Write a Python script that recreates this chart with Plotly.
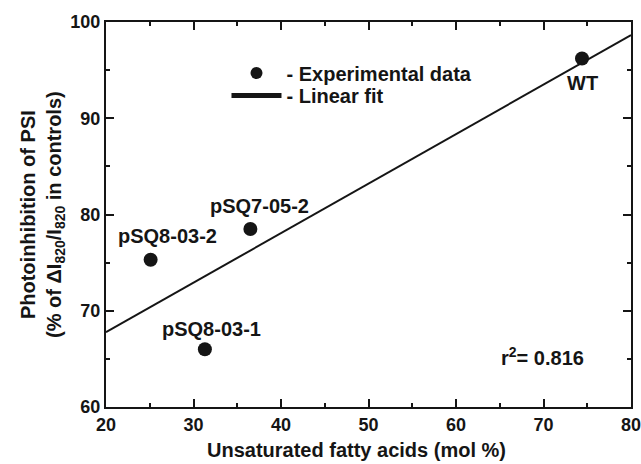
import numpy as np
import plotly.graph_objects as go

# data
strains = ["pSQ8-03-2", "pSQ8-03-1", "pSQ7-05-2", "WT"]
unsat_fa = [25.1, 31.3, 36.5, 74.4]
photoinhib = [75.3, 66.0, 78.5, 96.2]
x_ticks = [20, 30, 40, 50, 60, 70, 80]
y_ticks = [60, 70, 80, 90, 100]
r2_text = "r<sup>2</sup>= 0.816"

# label offsets (pixels) – style only
label_dx = [17, 7, 9, 0]
label_dy = [24, 20, 23, -24]

slope, intercept = np.polyfit(unsat_fa, photoinhib, 1)
fit_x = np.array([20, 80])
fit_y = slope * fit_x + intercept

FONT = "Liberation Sans, Arial, Helvetica, sans-serif"
INK = "#151515"

fig = go.Figure()
fig.add_trace(go.Scatter(
    x=unsat_fa, y=photoinhib, mode="markers",
    marker=dict(size=14, color=INK),
    name="- Experimental data", legend="legend",
))
fig.add_trace(go.Scatter(
    x=fit_x, y=fit_y, mode="lines",
    line=dict(color=INK, width=2),
    name="- Linear fit", legend="legend2",
))

for s, xv, yv, dx, dy in zip(strains, unsat_fa, photoinhib, label_dx, label_dy):
    fig.add_annotation(x=xv, y=yv, xref="x", yref="y", text=s, showarrow=False,
                       xshift=dx, yshift=dy, xanchor="center", yanchor="middle",
                       font=dict(family=FONT, size=20, color=INK, weight="bold"))

axis_common = dict(
    showline=True, linecolor=INK, linewidth=2, mirror="allticks",
    ticks="inside", ticklen=8, tickwidth=2, tickcolor=INK,
    showgrid=False, zeroline=False, automargin=False,
    ticklabeloverflow="allow",
    tickfont=dict(family=FONT, size=18, color=INK, weight="bold"),
)
minor = dict(dtick=5, ticks="inside", ticklen=4, tickwidth=2, tickcolor=INK)
fig.update_xaxes(range=[20, 80], tickvals=x_ticks, minor=minor, **axis_common)
fig.update_yaxes(range=[60, 100], tickvals=y_ticks, minor=minor, **axis_common)

fig.add_annotation(text="Unsaturated fatty acids (mol %)", xref="paper", yref="paper",
                   x=0.478, y=-0.112, xanchor="center", yanchor="middle", showarrow=False,
                   font=dict(family=FONT, size=20, color=INK, weight="bold"))
fig.add_annotation(text="Photoinhibition of PSI<br>(% of ΔI<sub>820</sub>/I<sub>820</sub> in controls)",
                   xref="paper", yref="paper", x=-0.121, y=0.5, xanchor="center", yanchor="middle",
                   textangle=-90, showarrow=False,
                   font=dict(family=FONT, size=20, color=INK, weight="bold"))
fig.add_annotation(text=r2_text, xref="paper", yref="paper", x=0.831, y=0.131,
                   xanchor="center", yanchor="middle", showarrow=False,
                   font=dict(family=FONT, size=20, color=INK, weight="bold"))

legend_common = dict(xanchor="left", yanchor="middle", bgcolor="rgba(0,0,0,0)",
                     itemwidth=50, itemsizing="constant",
                     font=dict(family=FONT, size=20, color=INK, weight="bold"))
fig.update_layout(
    width=641, height=464,
    margin=dict(l=106, r=10, t=22, b=57, autoexpand=False),
    paper_bgcolor="white", plot_bgcolor="white",
    showlegend=True,
    legend=dict(x=0.2295, y=0.8675, **legend_common),
    legend2=dict(x=0.2295, y=0.809, **legend_common),
)

fig.write_html("out.html", config={"displayModeBar": False},
               post_script="document.body.style.margin='0';")
